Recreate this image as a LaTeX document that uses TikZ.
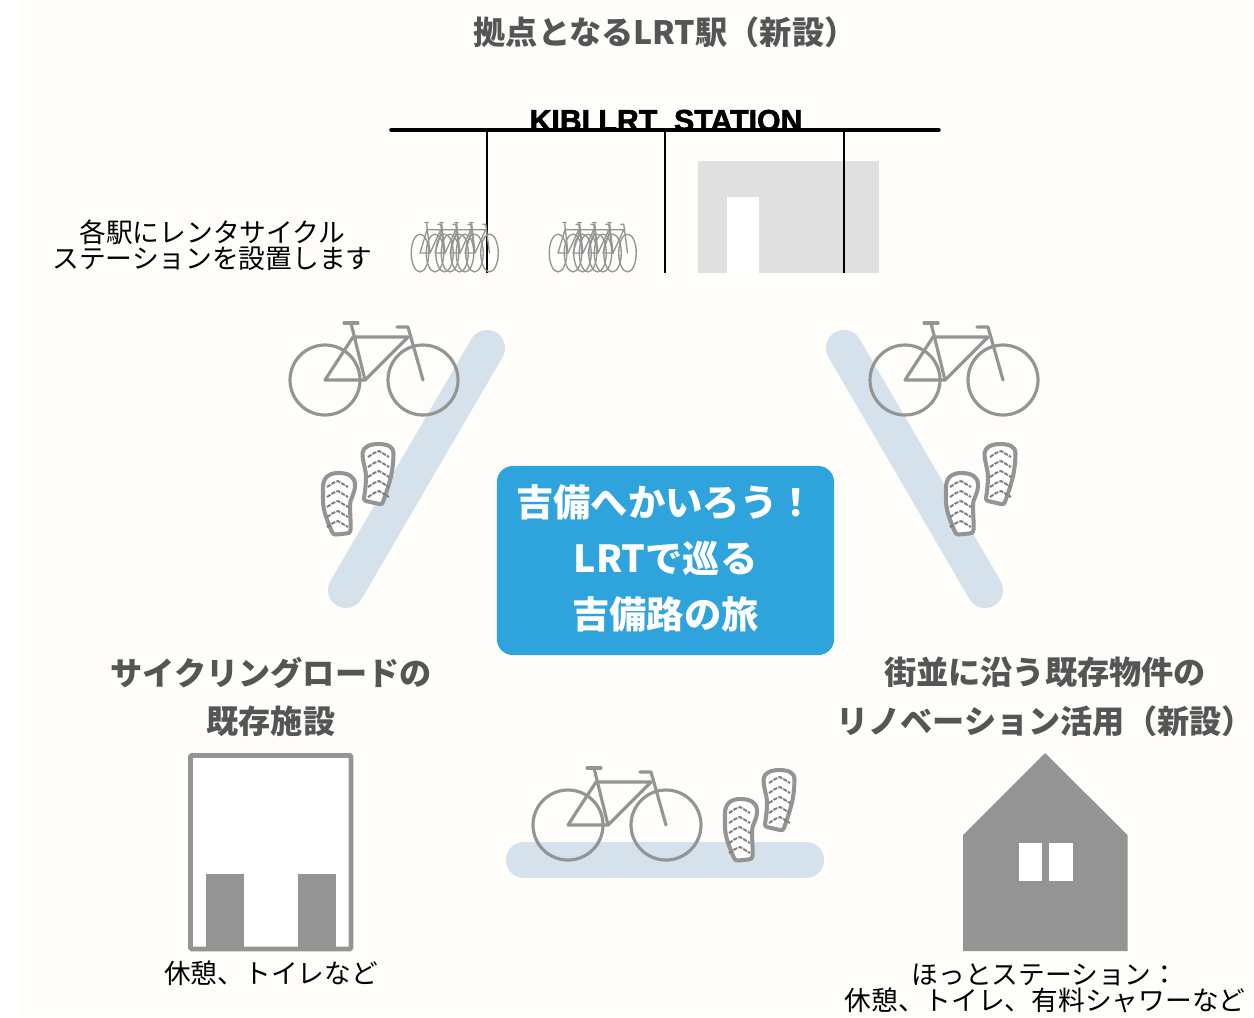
\documentclass[tikz,border=0pt]{standalone}
\usepackage{fontspec}
\setmainfont{Noto Sans CJK JP}
\newfontfamily\stationfont[FakeBold=2]{Liberation Sans}
\definecolor{creamback}{HTML}{FEFDF9}
\definecolor{roadblue}{HTML}{D5E2EB}
\definecolor{iconbox}{HTML}{2FA3DB}
\definecolor{icongray}{HTML}{949494}
\definecolor{headgray}{HTML}{555555}
\definecolor{wallgray}{HTML}{E0E0E0}
\tikzset{
    headtext/.style={font=\fontsize{9.15}{13.9}\selectfont\bfseries, text=headgray, align=center},
    notetext/.style={font=\fontsize{7.6}{7.5}\selectfont, text=black, align=center},
    road/.style={line width=0.36cm, draw=roadblue, line cap=round},
    bikeline/.style={draw=icongray, line width=0.9pt, line cap=round, line join=round},
    soleline/.style={draw=icongray, line width=1.15pt, fill=white, line join=round},
    tread/.style={draw=icongray!85!black, line width=0.55pt, dash pattern=on 1.2pt off 0.35pt},
    bikeicon/.pic={
        \draw[bikeline] (0,0) circle (35);
        \draw[bikeline] (98,0) circle (35);
        \draw[bikeline] (0,0) -- (40,0) -- (83,-43) -- (28,-43) -- cycle;
        \draw[bikeline] (40,0) -- (26,-57);
        \draw[bikeline] (19,-57) -- (33,-57);
        \draw[bikeline] (72,-53) -- (83,-53) -- (98,0);
    },
    soleleft/.pic={
        \draw[soleline] (-15,-17) .. controls (-15,-27) and (-8,-31) .. (0,-31)
            .. controls (10,-31) and (17,-28) .. (17,-19)
            .. controls (17,-10) and (12,-5) .. (12,0)
            .. controls (12,10) and (13,20) .. (12.5,26)
            .. controls (12.5,29) and (11,29) .. (8,29.5)
            -- (-2,30.5) .. controls (-4,30.5) and (-5,30) .. (-6,28)
            .. controls (-10,18) and (-15,8) .. (-15,-4) -- cycle;
        \foreach \k in {-20,-10,...,20}
            \draw[tread] (-11,\k+3) -- (-5,\k-1) -- (0,\k-3) -- (5,\k) -- (10,\k+3);
    },
    soleright/.pic={
        \draw[soleline] (-15.5,-21) .. controls (-15,-27) and (-8,-30) .. (0,-30)
            .. controls (10,-30) and (15.5,-27) .. (15.5,-21)
            .. controls (15.5,-12) and (14,0) .. (12,6)
            .. controls (10,14) and (7,22) .. (5,28)
            .. controls (4.5,30) and (3,30.5) .. (1,30)
            -- (-12,27) .. controls (-14,26.5) and (-14,25) .. (-14,24)
            .. controls (-13,18) and (-12,10) .. (-12,3)
            .. controls (-12,-5) and (-15.5,-12) .. (-15.5,-21) -- cycle;
        \foreach \k in {-20,-10,...,20}
            \draw[tread] (-10,\k+3) -- (-4,\k-1) -- (1,\k-3) -- (6,\k) -- (11,\k+3);
    },
}
\begin{document}
\begin{tikzpicture}[x=0.01cm,y=-0.01cm]
    \useasboundingbox (0,0) rectangle (1254,1017);
    \fill[creamback] (18,0) rectangle (1254,1017);

    % roads
    \draw[road] (487,348) -- (346,590);
    \draw[road] (844,348) -- (985,590);
    \draw[road] (524,860) -- (806,860);

    % station
    \node[inner sep=0pt, font=\stationfont\fontsize{8.6}{8.6}\selectfont\bfseries] (stationname) at (666,120.5) {KIBI LRT\ \ STATION};
    \fill[wallgray] (697.5,161) rectangle (879,273);
    \fill[white] (726.5,197) rectangle (759,273);
    \draw[line width=1pt, line cap=round] (391,130) -- (939,130);
    \draw[line width=0.65pt] (487,130) -- (487,273);
    \draw[line width=0.65pt] (665,130) -- (665,273);
    \draw[line width=0.65pt] (844,130) -- (844,273);

    % rental bikes
    \begin{scope}[bikeline/.append style={line width=0.38pt}]
        \foreach \k in {0,15,30,45} {
            \pic[xscale=0.25,yscale=0.54] at (420+\k,253) {bikeicon};
            \pic[xscale=0.25,yscale=0.54] at (558+\k,253) {bikeicon};
        }
    \end{scope}

    % bikes and soles
    \pic at (325,380) {bikeicon};
    \pic at (905,380) {bikeicon};
    \pic at (568,825) {bikeicon};
    \pic at (338,504) {soleleft};
    \pic at (378,474) {soleright};
    \pic at (961,504) {soleleft};
    \pic at (1000,474) {soleright};
    \pic at (740,830) {soleleft};
    \pic at (779,800) {soleright};

    % center box
    \node[fill=iconbox, rounded corners=0.16cm, minimum width=3.37cm, minimum height=1.89cm, inner sep=0pt] (tourbox) at (665.5,560.5) {};
    \node[inner sep=0pt, align=center, text=white, font=\fontsize{10.6}{15.93}\selectfont\bfseries] (tourtext) at (665.5,558.5) {吉備へかいろう！\\LRTで巡る\\吉備路の旅};

    % texts
    \node[headtext] (stationhead) at (665,32) {拠点となるLRT駅（新設）};
    \node[notetext] (rentalnote) at (212.5,245.5) {各駅にレンタサイクル\\ステーションを設置します};
    \node[headtext] (cyclehead) at (271,697) {サイクリングロードの\\既存施設};
    \node[headtext] (renohead) at (1045,697) {街並に沿う既存物件の\\リノベーション活用（新設）};
    \node[notetext] (cyclenote) at (271,973.5) {休憩、トイレなど};
    \node[notetext] (renonote) at (1045,988) {ほっとステーション：\\休憩、トイレ、有料シャワーなど};

    % existing building
    \draw[draw=icongray, line width=1.3pt, fill=white, rounded corners=0.3pt] (190.5,755.5) rectangle (351,949);
    \fill[icongray] (205.7,874) rectangle (243.5,949);
    \fill[icongray] (297.5,874) rectangle (335.5,949);

    % house
    \fill[icongray] (1045,753) -- (1127.5,835) -- (1127.5,951) -- (963,951) -- (963,835) -- cycle;
    \fill[white] (1018.5,843) rectangle (1042,881);
    \fill[white] (1048.5,843) rectangle (1073,881);
\end{tikzpicture}
\end{document}
